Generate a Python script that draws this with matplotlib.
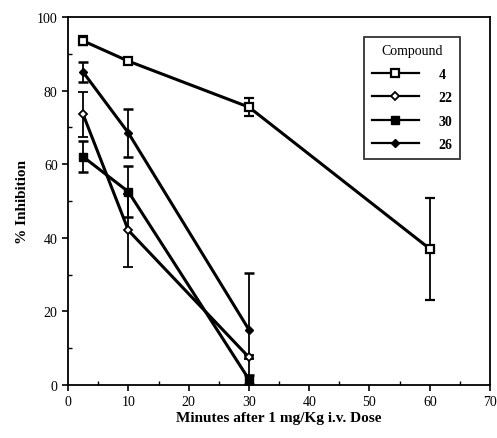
import matplotlib.pyplot as plt
from matplotlib.lines import Line2D
import numpy as np

plt.rcParams['font.family'] = ['Liberation Serif', 'DejaVu Serif']

# compound 4
x4 = [2.5, 10, 30, 60]
y4 = [93.5, 88, 75.5, 37]
e4 = [1.2, 0.5, 2.5, 13.8]
# compound 22
x22 = [2.5, 10, 30]
y22 = [73.5, 42, 7.5]
e22 = [6, 10, 0.5]
# compound 30
x30 = [2.5, 10, 30]
y30 = [62, 52.5, 1.5]
e30 = [4.2, 7, 1.2]
# compound 26
x26 = [2.5, 10, 30]
y26 = [85, 68.5, 15]
e26 = [2.8, 6.5, 15.5]

fig = plt.figure(figsize=(4.97, 4.39), dpi=100, facecolor='w')
ax = fig.add_axes([0.137, 0.121, 0.849, 0.838])

styles = {
    '4': dict(marker='s', ms=5.5, mfc='white', mec='black', mew=1.6),
    '22': dict(marker='D', ms=4, mfc='white', mec='black', mew=1.3),
    '30': dict(marker='s', ms=5.5, mfc='black', mec='black'),
    '26': dict(marker='D', ms=4.5, mfc='black', mec='black'),
}
common = dict(color='black', lw=2.2, capsize=3.5, elinewidth=1.3, capthick=1.8)
ax.errorbar(x4, y4, yerr=e4, **styles['4'], **common)
ax.errorbar(x22, y22, yerr=e22, **styles['22'], **common)
ax.errorbar(x30, y30, yerr=e30, **styles['30'], **common)
ax.errorbar(x26, y26, yerr=e26, **styles['26'], **common)

ax.set_xlim(0, 70)
ax.set_ylim(0, 100)
ax.set_xticks(np.arange(0, 71, 10))
ax.set_xticks(np.arange(0, 71, 5), minor=True)
ax.set_yticks(np.arange(0, 101, 20))
ax.set_yticks(np.arange(0, 101, 10), minor=True)
ax.tick_params(which='major', direction='out', length=4, width=1.2, labelsize=10)
ax.tick_params(which='minor', direction='in', length=3, width=1)
for s in ax.spines.values():
    s.set_linewidth(1.3)

ax.set_xlabel('Minutes after 1 mg/Kg i.v. Dose', fontsize=11, fontweight='bold', labelpad=2)
ax.set_ylabel('% Inhibition', fontsize=11, fontweight='bold', labelpad=6)

handles = [Line2D([], [], color='black', lw=1.6, **styles[k]) for k in ['4', '22', '30', '26']]
leg = ax.legend(handles, ['4', '22', '30', '26'], title='Compound', loc='upper right',
                bbox_to_anchor=(0.945, 0.965), frameon=True, fancybox=False,
                edgecolor='black', handlelength=3.4, fontsize=10, title_fontsize=10,
                borderpad=0.55, labelspacing=0.75, handletextpad=1.4)
leg.get_frame().set_linewidth(1.3)
for t in leg.get_texts():
    t.set_fontweight('bold')

plt.savefig('out.png', dpi=100)
